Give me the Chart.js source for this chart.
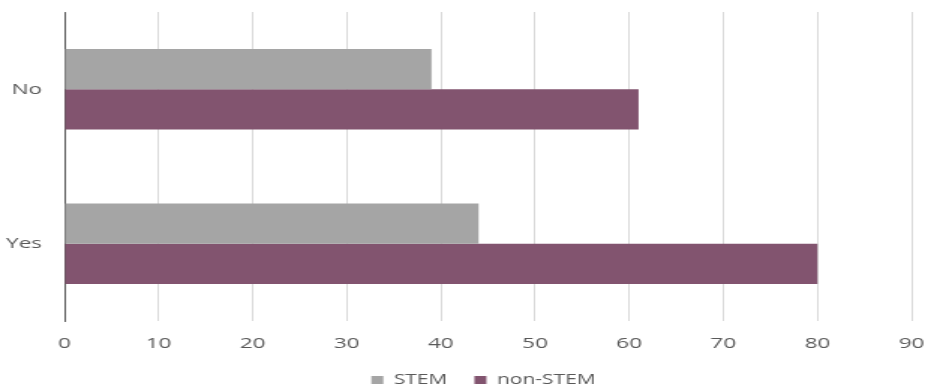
<!DOCTYPE html>
<html lang="en">
<head>
    <meta charset="UTF-8">
    <title>STEM vs non-STEM</title>
    <script src="https://cdn.jsdelivr.net/npm/chart.js"></script>
    <style>
        body {
            margin: 0;
            background: #ffffff;
            overflow: hidden;
        }

        /* drawn narrow, then stretched out to the full 925px width */
        .chart-container {
            width: 617px;
            height: 389px;
            position: relative;
            transform: scaleX(1.4992);
            transform-origin: 0 0;
        }
    </style>
</head>
<body>
    <div class="chart-container">
        <canvas id="answerChart"></canvas>
    </div>

    <script>
        const categories = ['No', 'Yes'];
        const stemValues = [39, 44];
        const nonStemValues = [61, 80];
        const xTicks = [0, 10, 20, 30, 40, 50, 60, 70, 80, 90];

        const labelFont = { family: "'Open Sans', sans-serif", size: 15 };
        const legendFont = { family: "'Open Sans', sans-serif", size: 14 };
        const labelColor = '#595959';

        // centre the legend under the plot rather than the whole canvas
        const legendShift = {
            id: 'legendShift',
            afterLayout(chart) {
                const area = chart.chartArea;
                const dx = (area.left + area.right) / 2 - chart.width / 2 - 3;
                chart.legend.left += dx;
                chart.legend.right += dx;
            }
        };

        const ctx = document.getElementById('answerChart').getContext('2d');

        const chart = new Chart(ctx, {
            type: 'bar',
            data: {
                labels: categories,
                datasets: [{
                    label: 'STEM',
                    data: stemValues,
                    backgroundColor: '#a5a5a5',
                    categoryPercentage: 0.52,
                    barPercentage: 1.0
                }, {
                    label: 'non-STEM',
                    data: nonStemValues,
                    backgroundColor: '#82546f',
                    categoryPercentage: 0.52,
                    barPercentage: 1.0
                }]
            },
            plugins: [legendShift],
            options: {
                indexAxis: 'y',
                responsive: true,
                maintainAspectRatio: false,
                animation: false,
                layout: {
                    padding: { top: 0, right: 0, left: 0, bottom: -8 }
                },
                plugins: {
                    legend: {
                        position: 'bottom',
                        labels: {
                            font: legendFont,
                            color: labelColor,
                            boxWidth: 8,
                            boxHeight: 8,
                            padding: 18
                        }
                    },
                    tooltip: { enabled: false }
                },
                scales: {
                    x: {
                        min: 0,
                        max: 90,
                        afterBuildTicks: function(axis) {
                            axis.ticks = xTicks.map(v => ({ value: v }));
                        },
                        afterFit: function(axis) {
                            axis.height = 34;
                            axis.paddingRight = 9;
                        },
                        grid: {
                            color: '#d9d9d9',
                            lineWidth: 1,
                            drawTicks: false
                        },
                        border: { display: false },
                        ticks: {
                            font: labelFont,
                            color: labelColor,
                            padding: 14
                        }
                    },
                    y: {
                        afterFit: function(axis) {
                            axis.width = 43;
                            axis.paddingTop = 12;
                            axis.paddingBottom = 0;
                        },
                        grid: { display: false, drawTicks: false },
                        border: { display: true, color: '#333333', width: 0.8 },
                        ticks: {
                            font: labelFont,
                            color: labelColor,
                            padding: 15
                        }
                    }
                }
            }
        });
    </script>
</body>
</html>
